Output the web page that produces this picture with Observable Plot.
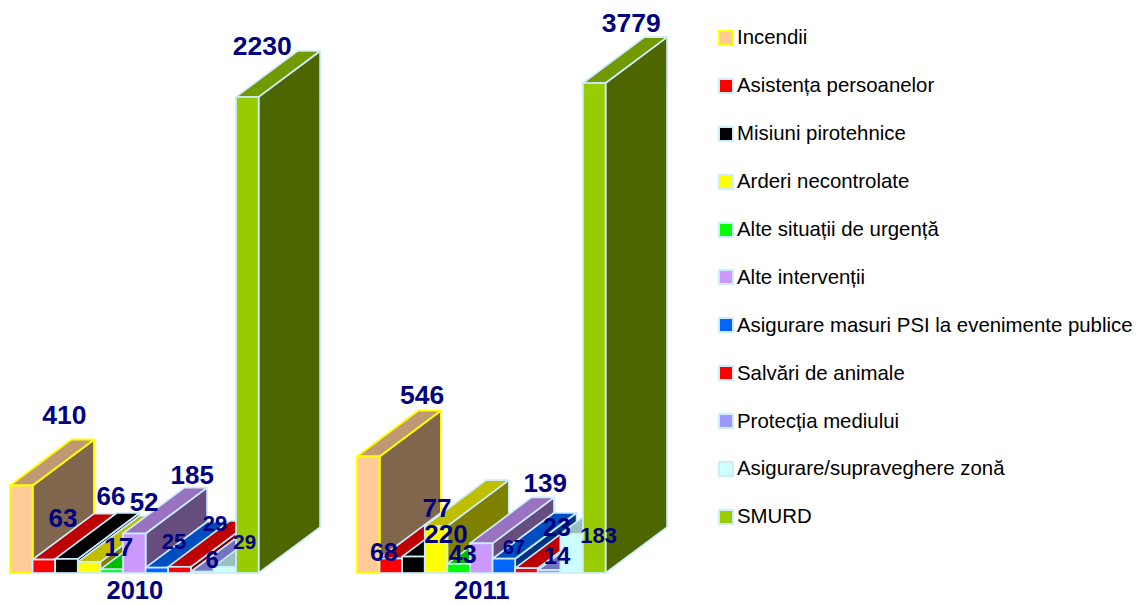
<!DOCTYPE html>
<html>
<head>
<meta charset="utf-8">
<script src="https://cdn.jsdelivr.net/npm/d3@7"></script>
<script src="https://cdn.jsdelivr.net/npm/@observablehq/plot@0.6"></script>
<style>
html,body{margin:0;padding:0;background:#fff;}
#wrap{position:relative;width:1137px;height:605px;overflow:hidden;font-family:"Liberation Sans",Arial,sans-serif;}
#chart{position:absolute;left:0;top:0;}
#legend{position:absolute;left:718px;top:14px;}
.row{height:47.9px;display:flex;align-items:center;white-space:nowrap;font-size:20.4px;color:#000;}
.sw{box-sizing:border-box;width:16px;height:16px;border:2px solid #CCECFF;margin-right:3px;flex:none;}
</style>
</head>
<body>
<div id="wrap"><div id="chart"></div><div id="legend"></div></div>
<script>
const categories = ["Incendii","Asistența persoanelor","Misiuni pirotehnice","Arderi necontrolate","Alte situații de urgență","Alte intervenții","Asigurare masuri PSI la evenimente publice","Salvări de animale","Protecția mediului","Asigurare/supraveghere zonă","SMURD"];
const years = ["2010","2011"];
const values2010 = [410,63,66,52,17,185,25,29,6,29,2230];
const values2011 = [546,68,77,220,43,139,67,23,14,183,3779];
const colors = ["#FFCC99","#FF0000","#000000","#FFFF00","#00FF00","#CC99FF","#0066FF","#FF0000","#9999FF","#CCFFFF","#99CC00"];

// styling / layout, separate from the data
const edgeColors = categories.map((_, i) => i === 0 ? "#FFFF00" : "#CCECFF");
const axisCap = 2295, depthX = 2.72, depthY = 215, groupStart = [0, 15.35];
const labelStyle2010 = [[-19,-24.5,26.5],[-43,4.5,26],[-17.5,-17,26],[-7,-14,26],[-55,24,26],[-4,-12.5,26],[-45,20,22],[-26.5,3,22],[-52,34,24],[-42,21,20.5],[-47,-5,26.5]];
const labelStyle2011 = [[-8,-16,26.5],[-69,40,25],[-38.5,-2,26],[-52,54,26],[-58,37,25],[2,-14,26],[-52,34,20],[-31.5,5,25],[-54,32,24],[-35,47,22],[-25,-14,26.5]];

const shade = (c, k) => { const r = d3.rgb(c); return d3.rgb(r.r*k, r.g*k, r.b*k).formatHex(); };
const marks = [];
const labels = [];
[values2010, values2011].forEach((values, g) => {
  const style = g === 0 ? labelStyle2010 : labelStyle2011;
  values.forEach((v, i) => {
    const l = groupStart[g] + i, r = l + 1, h = Math.min(v, axisCap);
    const stroke = edgeColors[i], strokeWidth = i === 0 ? 2 : 1.7;
    marks.push(
      Plot.area([{a:r,b:0,c:h},{a:r+depthX,b:depthY,c:h+depthY}], {x1:"a",y1:"b",x2:"a",y2:"c",fill:shade(colors[i],0.5),stroke,strokeWidth}),
      Plot.area([{a:l,c:r,b:h},{a:l+depthX,c:r+depthX,b:h+depthY}], {x1:"a",y1:"b",x2:"c",y2:"b",fill:shade(colors[i],0.75),stroke,strokeWidth}),
      Plot.rect([{l,r,h}], {x1:"l",x2:"r",y1:0,y2:"h",fill:colors[i],stroke,strokeWidth})
    );
    const [dx,dy,fontSize] = style[i];
    labels.push(Plot.text([{x:l+0.5+depthX,y:h+depthY,t:String(v)}], {x:"x",y:"y",text:"t",dx,dy,fontSize,fontWeight:"bold",fill:"#000080",stroke:"none"}));
  });
});

const yearTicks = groupStart.map(s => s + 5.5);
const plot = Plot.plot({
  width:710, height:605, marginLeft:10, marginRight:0, marginTop:0, marginBottom:32,
  style:{fontFamily:'"Liberation Sans",Arial,sans-serif',background:"#fff",overflow:"visible"},
  x:{domain:[0,30.97],axis:null},
  y:{domain:[0,2684],axis:null},
  marks:[
    ...marks,
    ...labels,
    Plot.axisX({ticks:yearTicks,tickFormat:d=>years[yearTicks.indexOf(d)],tickSize:0,tickPadding:7,fontSize:25.5,fontWeight:"bold",color:"#000080",label:null})
  ]
});
document.getElementById("chart").appendChild(plot);

const legend = d3.select("#legend").selectAll("div").data(categories).join("div").attr("class","row");
legend.append("div").attr("class","sw").style("background",(d,i)=>colors[i]).style("border-color",(d,i)=>edgeColors[i]);
legend.append("span").text(d=>d);
</script>
</body>
</html>
